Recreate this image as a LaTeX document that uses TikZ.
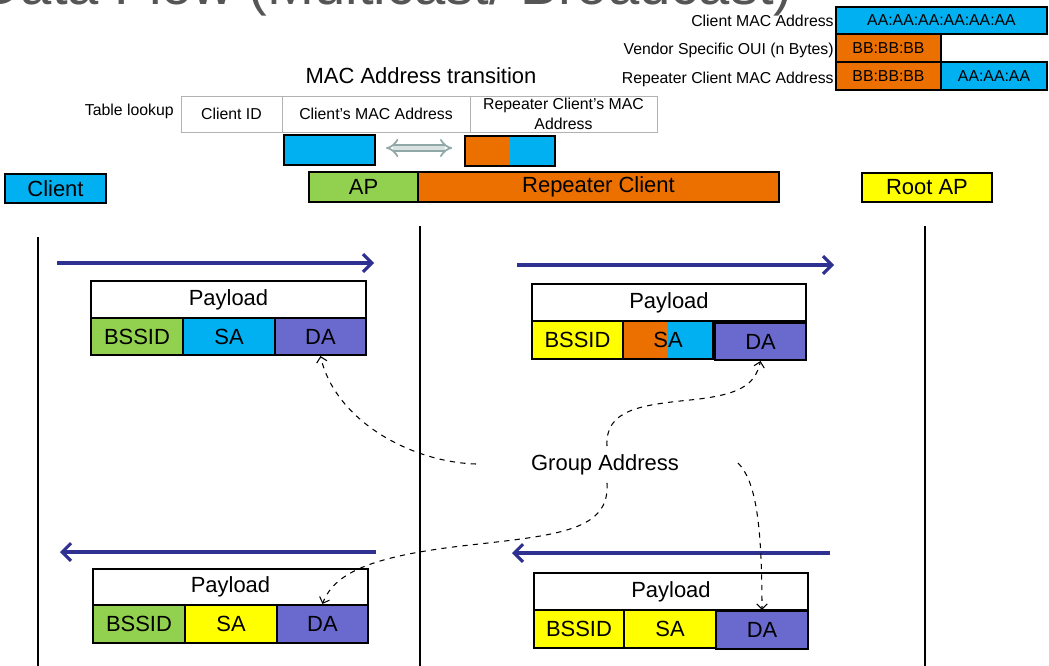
\documentclass[tikz,border=0pt]{standalone}
\usepackage{fontspec}
\setmainfont{Liberation Sans}
\usepackage{xcolor}
\usepackage{tikz}
\usetikzlibrary{shapes,arrows,arrows.meta,positioning}

\definecolor{macblue}{RGB}{0,176,240}
\definecolor{macorange}{RGB}{236,112,0}
\definecolor{macgreen}{RGB}{146,208,80}
\definecolor{macyellow}{RGB}{255,255,0}
\definecolor{macpurple}{RGB}{106,106,206}
\definecolor{navy}{RGB}{46,49,146}
\definecolor{titlegray}{RGB}{85,85,85}
\definecolor{swapgray}{RGB}{145,168,168}

\begin{document}
\begin{tikzpicture}[x=0.02cm, y=-0.02cm, >=stealth]
    % Define styles
    \tikzstyle{cell} = [rectangle, draw, line width=1.2pt, inner sep=0pt, minimum height=0.74cm, font=\fontsize{12.5}{15}\selectfont]
    \tikzstyle{field} = [rectangle, draw, line width=1.2pt, inner sep=0pt, minimum height=0.54cm, font=\fontsize{9}{11}\selectfont]
    \tikzstyle{tabcell} = [rectangle, draw=gray!60, line width=0.5pt, inner sep=0pt, minimum height=0.72cm, align=center, font=\fontsize{9}{11}\selectfont]
    \tikzstyle{note} = [inner sep=0pt, font=\fontsize{9}{11}\selectfont]
    \tikzstyle{halfsplit} = [fill=macorange, path picture={\fill[macblue] (path picture bounding box.north) rectangle (path picture bounding box.south east);}]
    \tikzstyle{msg} = [draw=navy, line width=1.8pt, -{Straight Barb[length=5pt, width=10pt]}]
    \tikzstyle{grp} = [draw, dashed, line width=0.6pt, -{Straight Barb[length=3pt, width=6pt]}]
    \tikzstyle{life} = [draw, line width=1.3pt]

    \useasboundingbox (0,0) rectangle (1049,666);
    \clip (0,0) rectangle (1049,666);

    % Title (cut off at the top)
    \node [anchor=base west, inner sep=0pt, text=titlegray, font=\fontsize{32}{38}\selectfont] (title) at (-20,5) {Data Flow (Multicast/ Broadcast)};

    % MAC address format, top right
    \node [field, fill=macblue, minimum width=4.22cm] (cmac) at (941.5,20.5) {AA:AA:AA:AA:AA:AA};
    \node [field, fill=macorange, minimum width=2.1cm, minimum height=0.56cm] (oui) at (888.5,48) {BB:BB:BB};
    \node [field, fill=macorange, minimum width=2.1cm, minimum height=0.56cm] (roui) at (888.5,76) {BB:BB:BB};
    \node [field, fill=macblue, minimum width=2.12cm, minimum height=0.56cm] (rnic) at (994,76) {AA:AA:AA};
    \node [note, anchor=east] (cmaclbl) at (834,21) {Client MAC Address};
    \node [note, anchor=east] (ouilbl) at (834,50) {Vendor Specific OUI (n Bytes)};
    \node [note, anchor=east] (rmaclbl) at (834,79) {Repeater Client MAC Address};

    % Table lookup
    \node [font=\fontsize{12.5}{15}\selectfont] (trans) at (421,76) {MAC Address transition};
    \node [tabcell, minimum width=2.02cm] (cid) at (231.5,114) {Client ID};
    \node [tabcell, minimum width=3.76cm] (cidmac) at (376,114) {Client’s MAC Address};
    \node [tabcell, minimum width=3.74cm] (ridmac) at (563.5,114) {Repeater Client’s MAC\\Address};
    \node [note, anchor=east] (lookup) at (174,111) {Table lookup};
    \node [cell, fill=macblue, minimum width=1.82cm, minimum height=0.6cm] (clientmac) at (329.5,150) {};
    \node [cell, halfsplit, line width=0.9pt, minimum width=1.8cm, minimum height=0.6cm] (repmac) at (510,151) {};
    \draw [double=swapgray!35, draw=swapgray, line width=1pt, double distance=2.5pt, {Implies}-{Implies}] ([xshift=0.2cm]clientmac.east |- 0,148) -- ([xshift=-0.24cm]repmac.west |- 0,148);

    % Stations
    \node [cell, fill=macblue, minimum width=2.02cm, minimum height=0.58cm] (client) at (55.5,188.5) {Client};
    \node [cell, fill=macgreen, minimum width=2.18cm, minimum height=0.6cm] (ap) at (363.5,187) {AP};
    \node [cell, fill=macorange, minimum width=7.22cm, minimum height=0.6cm] (repeater) at (598.5,187) {Repeater Client};
    \node [cell, fill=macyellow, minimum width=2.6cm, minimum height=0.58cm] (rootap) at (927,187.5) {Root AP};

    % Lifelines
    \draw [life] (38,237) -- (38,666);
    \draw [life] (420,226) -- (420,666);
    \draw [life] (925,226) -- (925,666);

    % Messages
    \coordinate (m1s) at (57,263);
    \coordinate (m1e) at (374,263);
    \coordinate (m2s) at (517,265);
    \coordinate (m2e) at (834,265);
    \coordinate (m3s) at (376,552);
    \coordinate (m3e) at (60,552);
    \coordinate (m4s) at (830,553);
    \coordinate (m4e) at (512,553);
    \draw [msg] (m1s) -- (m1e);
    \draw [msg] (m2s) -- (m2e);
    \draw [msg] (m3s) -- (m3e);
    \draw [msg] (m4s) -- (m4e);

    % Frame: client -> AP
    \node [cell, minimum width=5.5cm] (tlpay) at (228.5,299.5) {Payload};
    \node [cell, fill=macgreen, minimum width=1.84cm] (tlbssid) at (137,336.5) {BSSID};
    \node [cell, fill=macblue, minimum width=1.84cm] (tlsa) at (229,336.5) {SA};
    \node [cell, fill=macpurple, minimum width=1.82cm] (tlda) at (320.5,336.5) {DA};

    % Frame: repeater client -> root AP
    \node [cell, minimum width=5.48cm] (trpay) at (669,302.5) {Payload};
    \node [cell, fill=macyellow, minimum width=1.82cm, minimum height=0.76cm] (trbssid) at (577.5,340) {BSSID};
    \node [cell, halfsplit, minimum width=1.8cm, minimum height=0.76cm] (trsa) at (668,340) {SA};
    \node [cell, fill=macpurple, minimum width=1.82cm] (trda) at (760.5,341.5) {DA};

    % Frame: AP -> client
    \node [cell, minimum width=5.5cm, minimum height=0.72cm] (blpay) at (230.5,587) {Payload};
    \node [cell, fill=macgreen, minimum width=1.84cm, minimum height=0.76cm] (blbssid) at (139,624) {BSSID};
    \node [cell, fill=macyellow, minimum width=1.84cm, minimum height=0.76cm] (blsa) at (231,624) {SA};
    \node [cell, fill=macpurple, minimum width=1.82cm, minimum height=0.76cm] (blda) at (322.5,624) {DA};

    % Frame: root AP -> repeater client
    \node [cell, minimum width=5.48cm] (brpay) at (671,591.5) {Payload};
    \node [cell, fill=macyellow, minimum width=1.8cm, minimum height=0.76cm] (brbssid) at (579,629) {BSSID};
    \node [cell, fill=macyellow, minimum width=1.84cm, minimum height=0.76cm] (brsa) at (670,629) {SA};
    \node [cell, fill=macpurple, minimum width=1.84cm, minimum height=0.76cm] (brda) at (762,630) {DA};

    % Group address
    \node [font=\fontsize{12.5}{15}\selectfont] (group) at (605,465) {Group Address};
    \coordinate (gl) at (476,464);
    \coordinate (gu) at (607,446);
    \coordinate (gd) at (607,483);
    \coordinate (gr) at (738,463);
    \draw [grp] (gl) .. controls (410,462) and (335,420) .. (tlda.south);
    \draw [grp] (gu) .. controls (605,410) and (640,405) .. (690,400) .. controls (740,395) and (755,385) .. (trda.south);
    \draw [grp] (gd) .. controls (610,530) and (560,535) .. (470,545) .. controls (380,555) and (335,570) .. (blda.north);
    \draw [grp] (gr) .. controls (755,480) and (762,520) .. (brda.north);
\end{tikzpicture}
\end{document}
